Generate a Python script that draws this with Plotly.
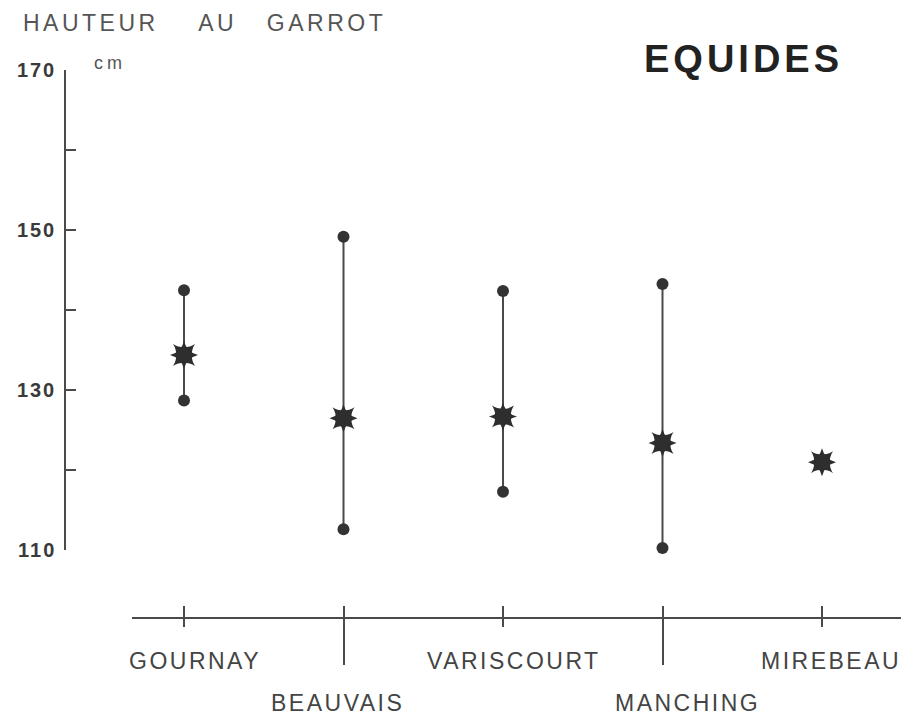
import plotly.graph_objects as go

# ---- data ----
categories = ["GOURNAY", "BEAUVAIS", "VARISCOURT", "MANCHING", "MIREBEAU"]
max_vals = [142.5, 149.2, 142.4, 143.3, None]
mean_vals = [134.4, 126.5, 126.7, 123.4, 121.0]
min_vals = [128.7, 112.6, 117.3, 110.25, None]
y_tickvals = [110, 120, 130, 140, 150, 160, 170]
y_ticklabels = ["110", "", "130", "", "150", "", "170"]
long_tick_cats = [1, 3]
y_title_words = ["HAUTEUR", "AU", "GARROT"]
unit = "cm"
title = "EQUIDES"

W, H = 909, 716
# empirical calibration of the rendered page (target pixel -> layout paper)
def px_x(p):
    return (p - 8) / W
def px_y(p):
    return 1 - ((p - 17.5) / 0.97) / H

FONT = "Liberation Sans, Arial, Helvetica, sans-serif"
INK = "#3a3a3a"
LINE = "#4a4a4a"

def spaced(t, s):
    if not t:
        return t
    return '<span style="letter-spacing:%spx">%s</span>' % (s, t)

xs = list(range(len(categories)))
step = (822 - 184) / 4
x_range = [(132 - 184) / step, (902 - 184) / step]
x_domain = [px_x(132), px_x(902)]
x_pos = px_y(617)

fig = go.Figure()

err_plus = [(mx - m) if mx is not None else 0 for mx, m in zip(max_vals, mean_vals)]
err_minus = [(m - mn) if mn is not None else 0 for mn, m in zip(min_vals, mean_vals)]

fig.add_trace(go.Scatter(
    x=xs, y=mean_vals, mode="markers",
    marker=dict(size=1, color="rgba(0,0,0,0)"),
    error_y=dict(type="data", symmetric=False, array=err_plus, arrayminus=err_minus,
                 width=0, thickness=2, color=LINE),
    showlegend=False, hoverinfo="skip", cliponaxis=False,
))

ex = [i for i, v in enumerate(max_vals) if v is not None] + [i for i, v in enumerate(min_vals) if v is not None]
ey = [v for v in max_vals if v is not None] + [v for v in min_vals if v is not None]
fig.add_trace(go.Scatter(
    x=ex, y=ey, mode="markers",
    marker=dict(symbol="circle", size=12, color="#333333"),
    showlegend=False, cliponaxis=False,
))

for sym in ["star-square", "star-diamond"]:
    fig.add_trace(go.Scatter(
        x=xs, y=mean_vals, mode="markers",
        marker=dict(symbol=sym, size=20, color="#2e2e2e", line=dict(width=0)),
        showlegend=False, cliponaxis=False,
    ))

for ax in ["x2", "x3"]:
    fig.add_trace(go.Scatter(x=[xs[0], xs[-1]], y=[140, 140], xaxis=ax, yaxis="y",
                             mode="markers", marker=dict(opacity=0),
                             showlegend=False, hoverinfo="skip"))

common_x = dict(domain=x_domain, range=x_range, anchor="free", position=x_pos,
                showgrid=False, zeroline=False, showticklabels=False,
                tickvals=xs, tickcolor=LINE, tickwidth=1.5, fixedrange=True)

fig.update_layout(
    width=W, height=H,
    margin=dict(l=0, r=0, t=0, b=0),
    paper_bgcolor="white", plot_bgcolor="white",
    font=dict(family=FONT, color=INK),
    xaxis=dict(**common_x, showline=True, linecolor=LINE, linewidth=1.5,
               ticks="outside", ticklen=8),
    xaxis2=dict(**common_x, overlaying="x", showline=False,
                ticks="inside", ticklen=12),
    xaxis3=dict(**{**common_x, "tickvals": long_tick_cats}, overlaying="x",
                showline=False, ticks="outside", ticklen=46),
    yaxis=dict(domain=[px_y(549), px_y(69)], range=[110, 170],
               anchor="free", position=px_x(65),
               showline=True, linecolor=LINE, linewidth=1.5,
               showgrid=False, zeroline=False,
               tickvals=y_tickvals, ticktext=[spaced(t, 2) for t in y_ticklabels],
               ticks="inside", ticklen=10, tickwidth=1.5, tickcolor=LINE,
               ticklabelstandoff=4,
               tickfont=dict(size=20, color="#3a3a3a", family=FONT, weight="bold"),
               fixedrange=True),
)

sp = "\u00a0"
y_title = y_title_words[0] + sp * 4 + y_title_words[1] + sp * 3 + y_title_words[2]
annotations = [
    dict(text=spaced(y_title, 3.5), xref="paper", yref="paper", x=px_x(21), y=px_y(22),
         xanchor="left", yanchor="middle", showarrow=False,
         font=dict(size=23, color="#555555", family=FONT)),
    dict(text=spaced(unit, 4), xref="paper", yref="paper", x=px_x(92), y=px_y(62),
         xanchor="left", yanchor="middle", showarrow=False,
         font=dict(size=18, color="#555555", family=FONT)),
    dict(text=spaced(title, 4), xref="paper", yref="paper", x=px_x(642), y=px_y(58),
         xanchor="left", yanchor="middle", showarrow=False,
         font=dict(size=38, color="#222222", family=FONT, weight="bold")),
]
label_rows = [660, 702, 660, 702, 660]
label_shift = [11, -6, 11, 25, 9]
for i, name in enumerate(categories):
    annotations.append(dict(
        text=spaced(name, 2.5), xref="x", yref="paper", x=xs[i], y=px_y(label_rows[i]),
        xshift=label_shift[i], xanchor="center", yanchor="middle", showarrow=False,
        font=dict(size=23, color="#444444", family=FONT)))
fig.update_layout(annotations=annotations)

fig.write_html("out.html")
